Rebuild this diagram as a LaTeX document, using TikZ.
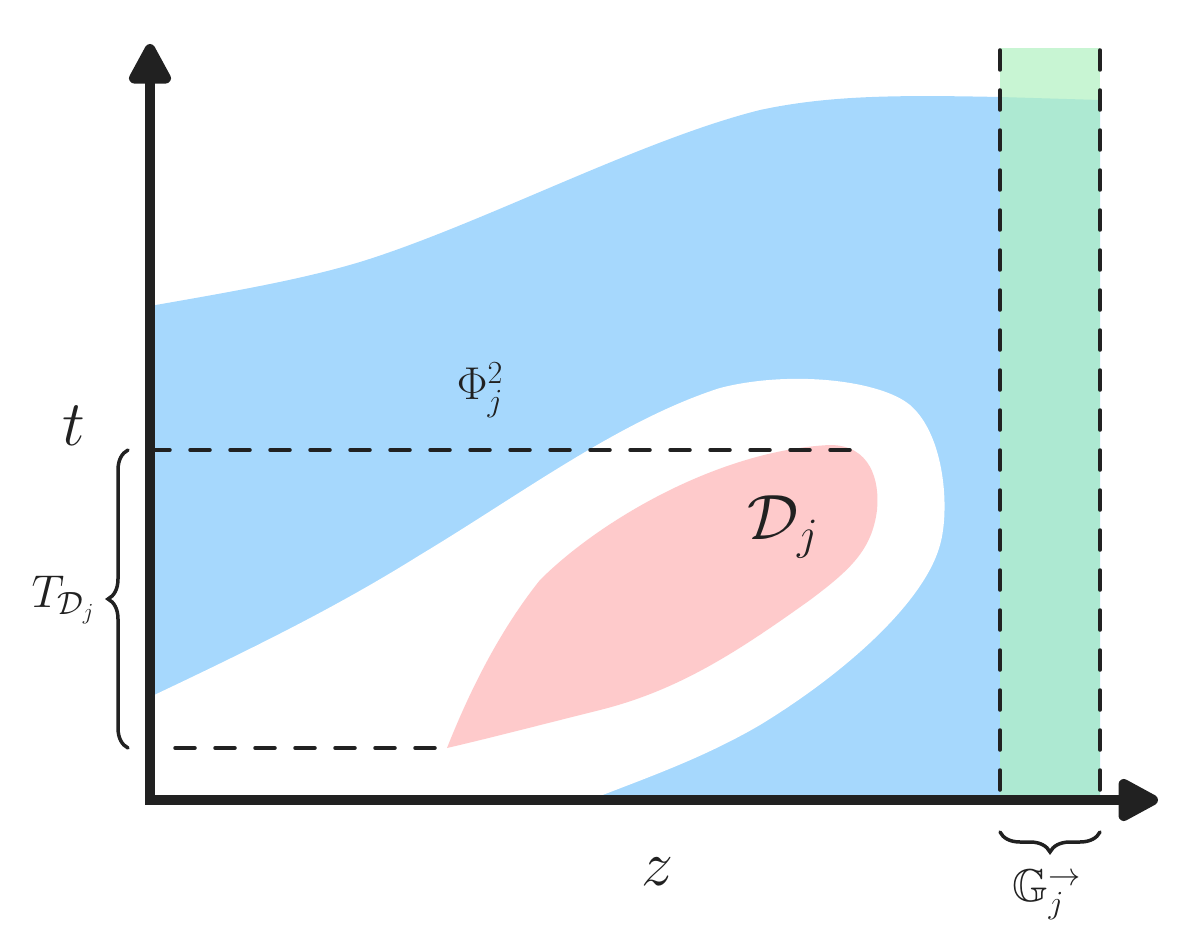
\RequirePackage{fix-cm}
\documentclass[tikz,border=0pt]{standalone}
\usepackage{amssymb}
\usetikzlibrary{arrows.meta,decorations.pathreplacing}
\definecolor{regblue}{RGB}{166,216,253}
\definecolor{regpink}{RGB}{254,202,203}
\definecolor{reggreen}{RGB}{176,241,192}
\definecolor{ink}{RGB}{33,33,33}
\tikzset{
  axisline/.style={draw=ink,line width=10.5pt,
    {Triangle[length=46pt,width=46pt,round]}-{Triangle[length=46pt,width=46pt,round]}},
  guide/.style={draw=ink,line width=3.5pt,line cap=round,dash pattern=on 20pt off 20pt},
  bracestyle/.style={draw=ink,line width=3.5pt,line cap=round,decorate,decoration={brace,amplitude=20pt}},
  biglabel/.style={text=ink,font=\fontsize{64}{70}\selectfont,inner sep=0pt},
  midlabel/.style={text=ink,font=\fontsize{46}{52}\selectfont,inner sep=0pt},
}
\begin{document}
\begin{tikzpicture}[x=1pt,y=-1pt]
\useasboundingbox (0,0) rectangle (1200,950);
% regions
\fill[regblue] (150,306) .. controls (230,292) and (300,280) .. (360,262)
  .. controls (480,225) and (640,140) .. (760,110)
  .. controls (830,95) and (900,95) .. (1000,97) -- (1100,100) -- (1100,800) -- (150,800) -- cycle;
\fill[white] (150,697) .. controls (260,645) and (340,605) .. (420,555)
  .. controls (520,495) and (620,420) .. (720,388)
  .. controls (790,370) and (880,380) .. (910,405)
  .. controls (945,435) and (950,510) .. (940,545)
  .. controls (925,600) and (850,670) .. (760,725)
  .. controls (700,760) and (640,780) .. (590,800) -- (150,800) -- cycle;
\fill[regpink] (447,748) .. controls (470,690) and (500,630) .. (540,580)
  .. controls (600,520) and (720,450) .. (830,445)
  .. controls (870,445) and (880,480) .. (877,510)
  .. controls (872,550) and (850,570) .. (810,600)
  .. controls (740,650) and (680,690) .. (600,710)
  .. controls (540,725) and (490,738) .. (447,748) -- cycle;
\fill[reggreen,opacity=0.7] (1000,48) rectangle (1100,800);
% coordinates
\coordinate (O) at (150,800);
\coordinate (ytip) at (150,44);
\coordinate (xtip) at (1158,800);
\coordinate (tL) at (150,450);
\coordinate (tR) at (855,450);
\coordinate (bL) at (175,748);
\coordinate (bR) at (447,748);
\coordinate (g1t) at (1000,50);
\coordinate (g1b) at (1000,800);
\coordinate (g2t) at (1100,50);
\coordinate (g2b) at (1100,800);
% guides
\draw[guide] (tL) -- (tR);
\draw[guide] (bL) -- (bR);
\draw[guide] (g1t) -- (g1b);
\draw[guide] (g2t) -- (g2b);
% axes
\draw[axisline] (ytip) -- (O) -- (xtip);
% braces
\coordinate (brA) at (128,748);
\coordinate (brB) at (128,450);
\draw[bracestyle] (brA) -- (brB);
\coordinate (brC) at (1100,832);
\coordinate (brD) at (1000,832);
\draw[bracestyle] (brC) -- (brD);
% labels
\node[biglabel] (tlab) at (74,426) {$t$};
\node[biglabel] (zlab) at (657,872) {$z$};
\node[biglabel] (dlab) at (783,527) {$\mathcal{D}_j$};
\node[midlabel] (philab) at (480,390) {$\Phi_j^2$};
\node[midlabel] (Tlab) at (63,600) {$T_{\mathcal{D}_j}$};
\node[midlabel] (Glab) at (1047,895) {$\mathbb{G}_j^{\to}$};
\end{tikzpicture}
\end{document}
